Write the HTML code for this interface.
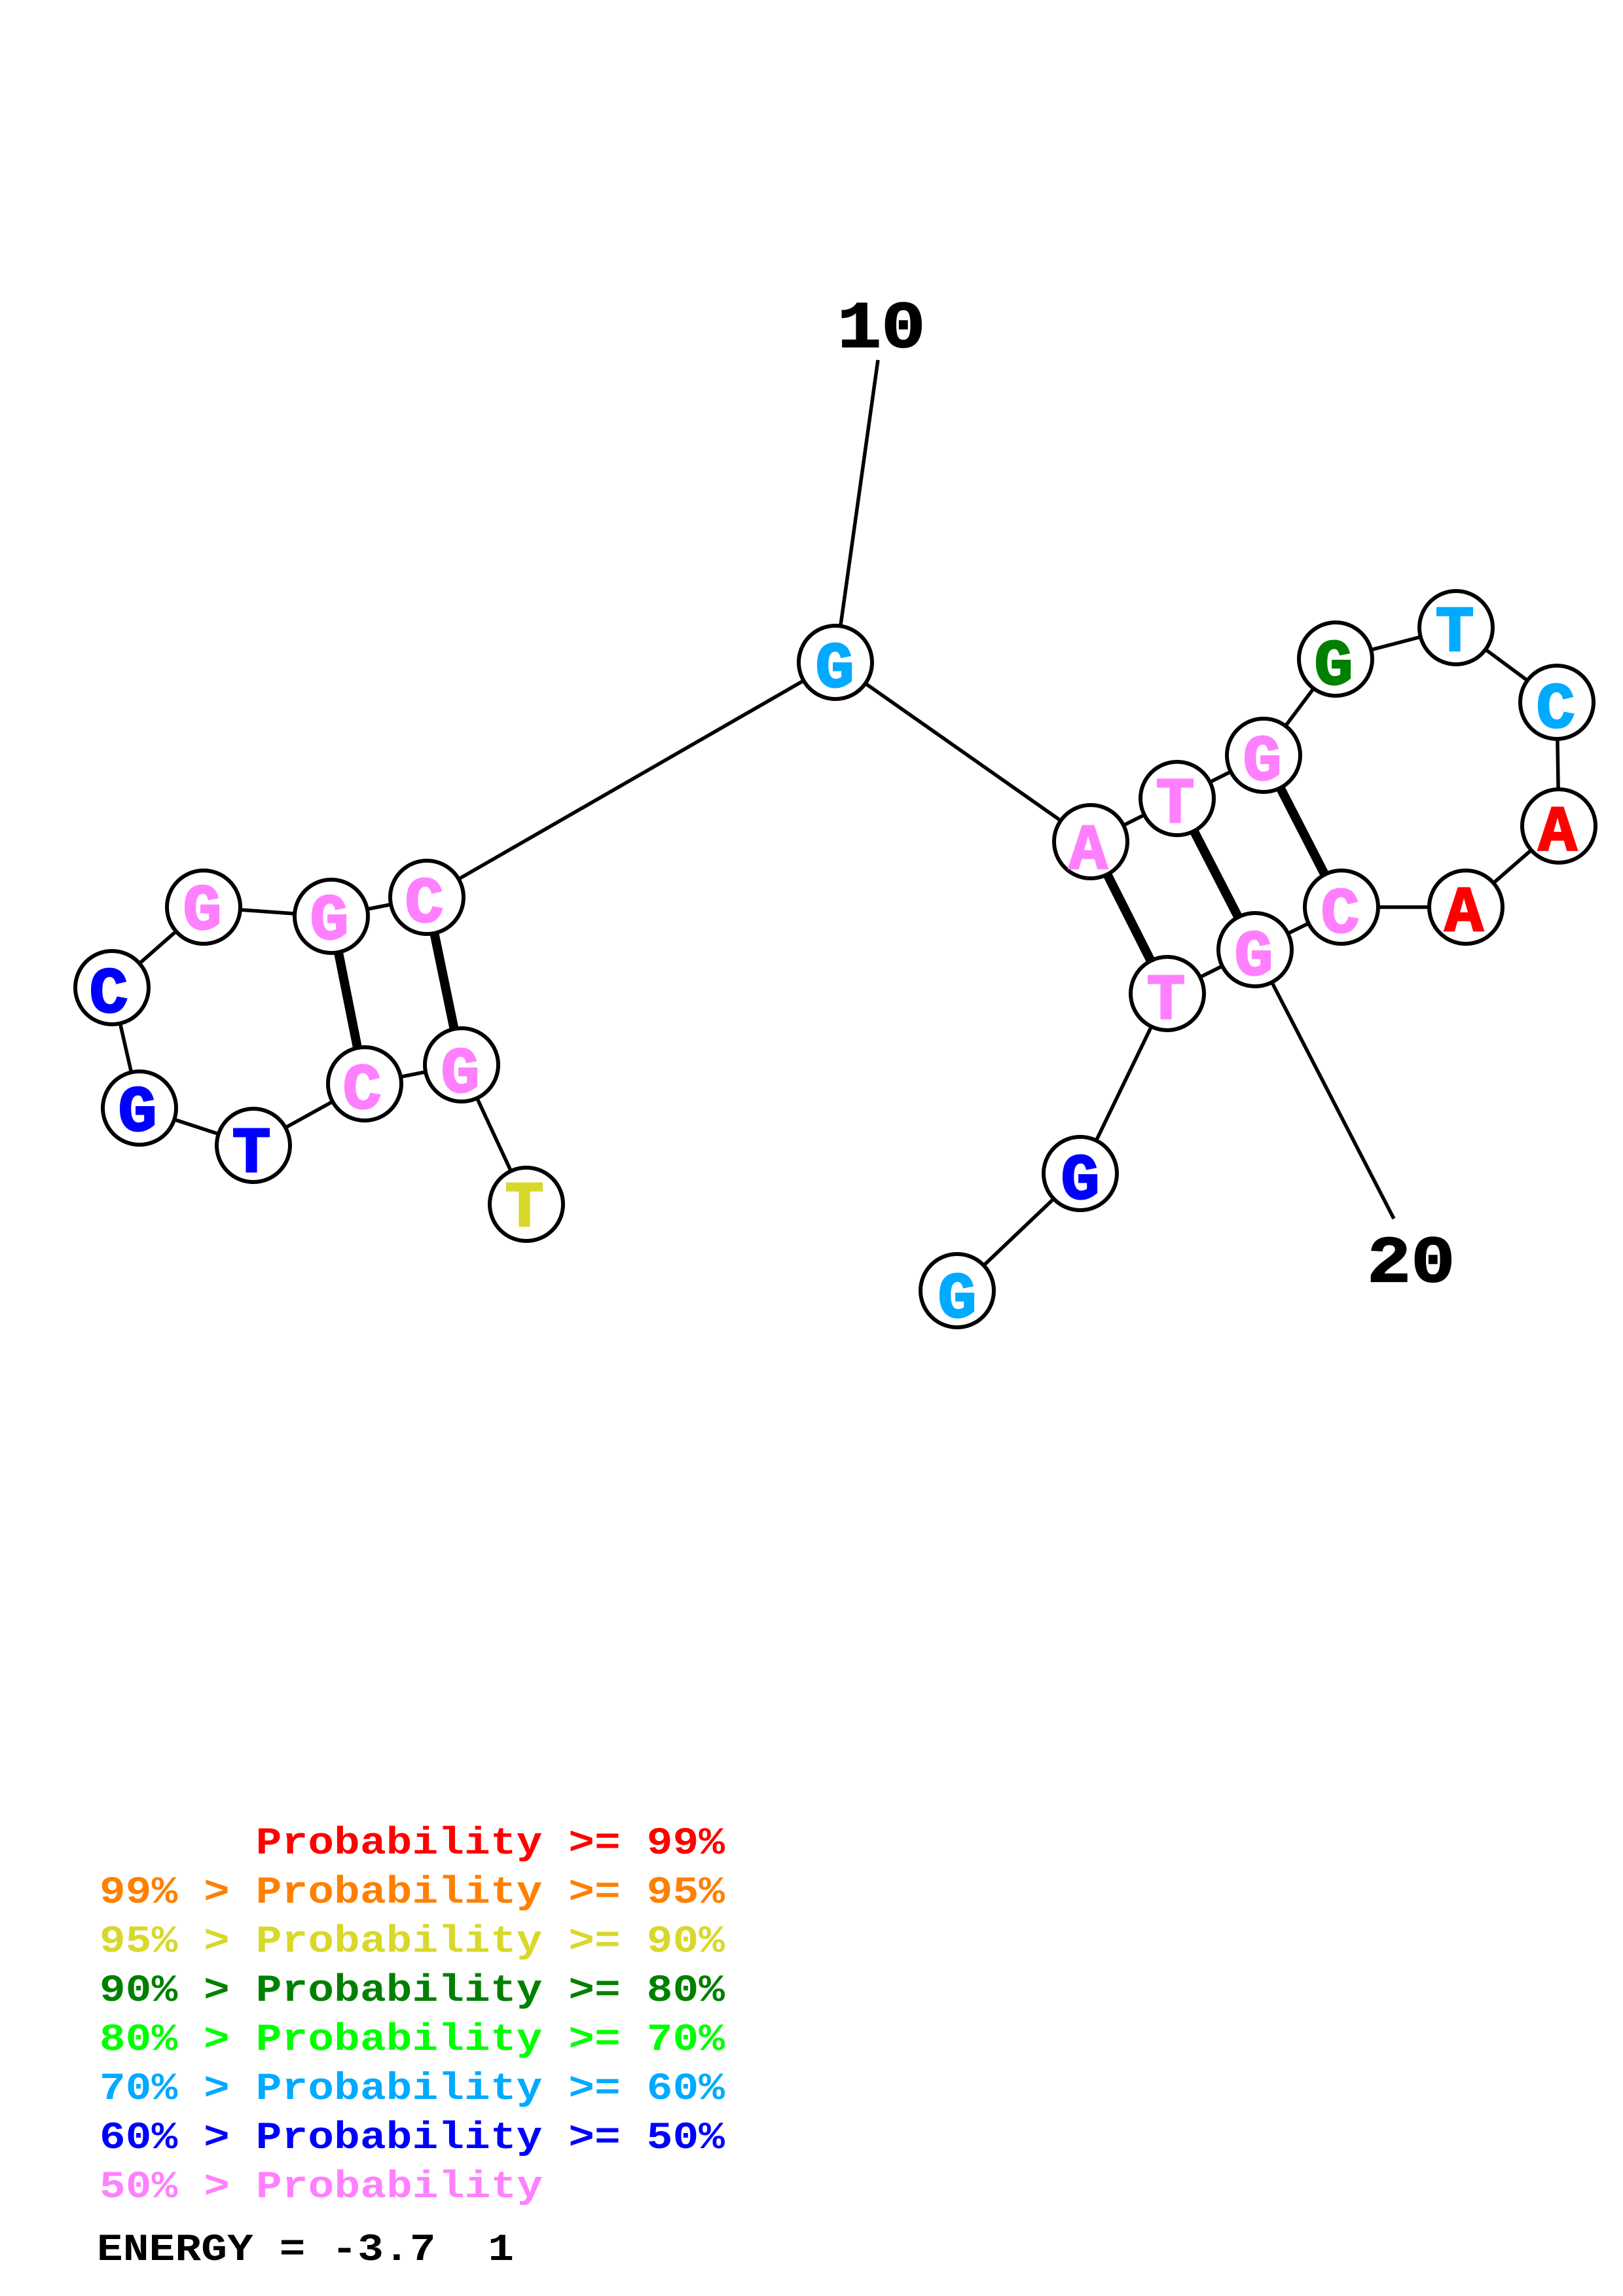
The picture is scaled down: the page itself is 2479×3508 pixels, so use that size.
<!DOCTYPE html>
<html><head><meta charset="utf-8"><style>
html,body{margin:0;padding:0;background:#fff}
svg{display:block}
text{font-family:"Liberation Mono",monospace;font-weight:bold;white-space:pre}
.n{font-size:98px;text-anchor:middle;stroke-width:3px}
.l{font-size:66px}
</style></head><body>
<svg width="2479" height="3508" viewBox="0 0 2479 3508" xmlns="http://www.w3.org/2000/svg">
<rect width="2479" height="3508" fill="#fff"/>
<g stroke="#000" stroke-width="5.5" fill="none">
<polyline points="804,1840 705,1627 557,1656 387,1750 213,1693 171,1509 311,1386 506,1400 652,1371 1276,1012 1666,1286 1798,1220 1930,1154 2040,1007 2224,959 2378,1073 2381,1262 2239,1386 2049,1386 1917,1451 1783,1518 1650,1793 1462,1972"/>
<line x1="1276" y1="1012" x2="1341" y2="550"/>
<line x1="1917" y1="1451" x2="2129" y2="1862"/>
</g>
<g stroke="#000" stroke-width="14">
<line x1="506" y1="1400" x2="557" y2="1656"/>
<line x1="652" y1="1371" x2="705" y2="1627"/>
<line x1="1666" y1="1286" x2="1783" y2="1518"/>
<line x1="1798" y1="1220" x2="1917" y2="1451"/>
<line x1="1930" y1="1154" x2="2049" y2="1386"/>
</g>
<g fill="#fff" stroke="#000" stroke-width="6">
<circle cx="804" cy="1840" r="56"/><circle cx="705" cy="1627" r="56"/><circle cx="557" cy="1656" r="56"/><circle cx="387" cy="1750" r="56"/><circle cx="213" cy="1693" r="56"/><circle cx="171" cy="1509" r="56"/><circle cx="311" cy="1386" r="56"/><circle cx="506" cy="1400" r="56"/><circle cx="652" cy="1371" r="56"/><circle cx="1276" cy="1012" r="56"/><circle cx="1666" cy="1286" r="56"/><circle cx="1798" cy="1220" r="56"/><circle cx="1930" cy="1154" r="56"/><circle cx="2040" cy="1007" r="56"/><circle cx="2224" cy="959" r="56"/><circle cx="2378" cy="1073" r="56"/><circle cx="2381" cy="1262" r="56"/><circle cx="2239" cy="1386" r="56"/><circle cx="2049" cy="1386" r="56"/><circle cx="1917" cy="1451" r="56"/><circle cx="1783" cy="1518" r="56"/><circle cx="1650" cy="1793" r="56"/><circle cx="1462" cy="1972" r="56"/>
</g>
<g class="nodes">
<text class="n" x="801" y="1873" fill="#d8d82b" stroke="#d8d82b">T</text>
<text class="n" x="703" y="1668" fill="#ff80ff" stroke="#ff80ff">G</text>
<text class="n" x="553" y="1693" fill="#ff80ff" stroke="#ff80ff">C</text>
<text class="n" x="384" y="1790" fill="#0000ff" stroke="#0000ff">T</text>
<text class="n" x="210" y="1727" fill="#0000ff" stroke="#0000ff">G</text>
<text class="n" x="166" y="1546" fill="#0000ff" stroke="#0000ff">C</text>
<text class="n" x="309" y="1419" fill="#ff80ff" stroke="#ff80ff">G</text>
<text class="n" x="503" y="1434" fill="#ff80ff" stroke="#ff80ff">G</text>
<text class="n" x="648" y="1408" fill="#ff80ff" stroke="#ff80ff">C</text>
<text class="n" x="1275" y="1049" fill="#00aaff" stroke="#00aaff">G</text>
<text class="n" x="1662" y="1327" fill="#ff80ff" stroke="#ff80ff">A</text>
<text class="n" x="1795" y="1256" fill="#ff80ff" stroke="#ff80ff">T</text>
<text class="n" x="1928" y="1191" fill="#ff80ff" stroke="#ff80ff">G</text>
<text class="n" x="2037" y="1045" fill="#008000" stroke="#008000">G</text>
<text class="n" x="2222" y="994" fill="#00aaff" stroke="#00aaff">T</text>
<text class="n" x="2376" y="1111" fill="#00aaff" stroke="#00aaff">C</text>
<text class="n" x="2379" y="1299" fill="#ff0000" stroke="#ff0000">A</text>
<text class="n" x="2236" y="1422" fill="#ff0000" stroke="#ff0000">A</text>
<text class="n" x="2047" y="1424" fill="#ff80ff" stroke="#ff80ff">C</text>
<text class="n" x="1915" y="1489" fill="#ff80ff" stroke="#ff80ff">G</text>
<text class="n" x="1781" y="1556" fill="#ff80ff" stroke="#ff80ff">T</text>
<text class="n" x="1650" y="1831" fill="#0000ff" stroke="#0000ff">G</text>
<text class="n" x="1462" y="2012" fill="#00aaff" stroke="#00aaff">G</text>
</g>
<text x="0" y="0" transform="translate(1279,530) scale(1,.9)" font-size="112" fill="#000" stroke="#000" stroke-width="2">10</text>
<text x="0" y="0" transform="translate(2088,1958) scale(1,.9)" font-size="112" fill="#000" stroke="#000" stroke-width="2">20</text>
<g>
<text class="l" x="152" y="0" transform="translate(0,2832) scale(1,.88)" fill="#ff0000" textLength="955">      Probability &gt;= 99%</text>
<text class="l" x="152" y="0" transform="translate(0,2907) scale(1,.88)" fill="#ff8000" textLength="955">99% &gt; Probability &gt;= 95%</text>
<text class="l" x="152" y="0" transform="translate(0,2982) scale(1,.88)" fill="#d8d82b" textLength="955">95% &gt; Probability &gt;= 90%</text>
<text class="l" x="152" y="0" transform="translate(0,3057) scale(1,.88)" fill="#008000" textLength="955">90% &gt; Probability &gt;= 80%</text>
<text class="l" x="152" y="0" transform="translate(0,3132) scale(1,.88)" fill="#00ff00" textLength="955">80% &gt; Probability &gt;= 70%</text>
<text class="l" x="152" y="0" transform="translate(0,3207) scale(1,.88)" fill="#00aaff" textLength="955">70% &gt; Probability &gt;= 60%</text>
<text class="l" x="152" y="0" transform="translate(0,3282) scale(1,.88)" fill="#0000ff" textLength="955">60% &gt; Probability &gt;= 50%</text>
<text class="l" x="152" y="0" transform="translate(0,3357) scale(1,.88)" fill="#ff80ff" textLength="677">50% &gt; Probability</text>
<text class="l" x="148" y="0" transform="translate(0,3453) scale(1,.88)" fill="#000" textLength="637">ENERGY = -3.7  1</text>
</g>
</svg>
</body></html>
